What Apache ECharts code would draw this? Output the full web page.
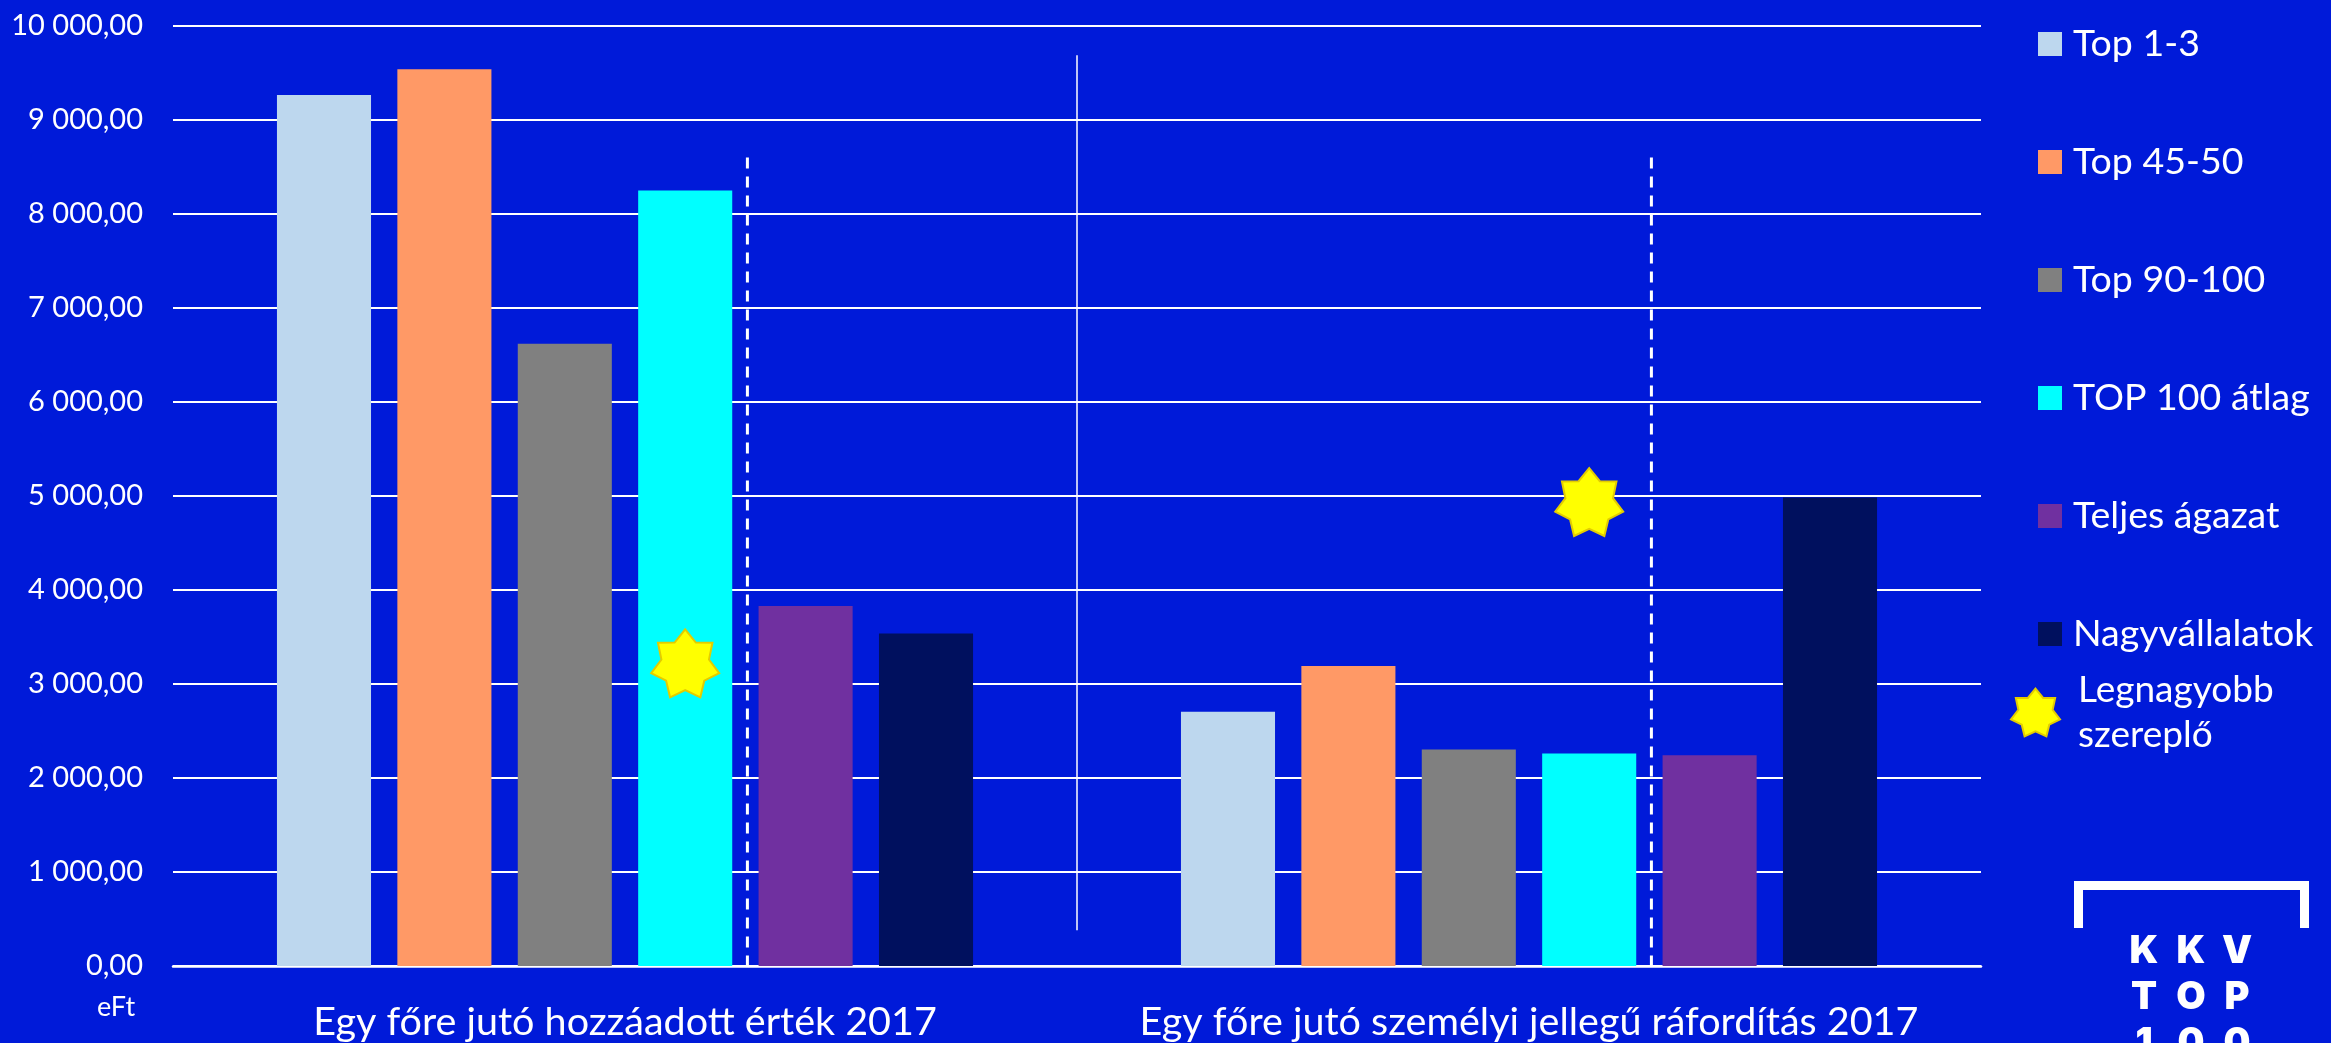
<!DOCTYPE html>
<html><head><meta charset="utf-8">
<script src="https://cdn.jsdelivr.net/npm/echarts@6/dist/echarts.min.js"></script>
<style>html,body{margin:0;padding:0;background:#001ad9;} #c{width:2331px;height:1043px;}</style>
</head><body><div id="c"></div>
<script>
// ---- data ----
const categories = ['Egy főre jutó hozzáadott érték 2017', 'Egy főre jutó személyi jellegű ráfordítás 2017'];
const seriesNames = ['Top 1-3', 'Top 45-50', 'Top 90-100', 'TOP 100 átlag', 'Teljes ágazat', 'Nagyvállalatok'];
const top1_3 = [9266, 2706];
const top45_50 = [9539, 3191];
const top90_100 = [6620, 2302];
const top100Atlag = [8249, 2260];
const teljesAgazat = [3830, 2241];
const nagyvallalatok = [3536, 4983];
const legnagyobbSzereplo = [3220, 4936];   // star markers, drawn at the TOP 100 bar position
const starName = 'Legnagyobb szereplő';
const yMin = 0, yMax = 10000, yStep = 1000;
const unitLabel = 'eFt';
const dividerSpan = [9690, 380];   // solid divider between the two groups
const dashedSpan = [8600, 0];      // dashed separators inside each group

// ---- styling ----
const colors = ['#BDD7EE', '#FF9966', '#808080', '#00FFFF', '#7030A0', '#00105E'];
const FONT = 'Lato';
const BAR_GAP = 0.28, CAT_GAP = 0.23, N = 6;

function starPath(n, inner) {
  let d = '';
  for (let i = 0; i < 2 * n; i++) {
    const r = i % 2 ? inner : 1;
    const a = -Math.PI / 2 + i * Math.PI / n;
    d += (i ? 'L' : 'M') + (50 + 50 * r * Math.cos(a)).toFixed(2) + ' ' + (50 + 50 * r * Math.sin(a)).toFixed(2);
  }
  return 'path://' + d + 'Z';
}
const STAR = starPath(7, 0.7);
const starStyle = { color: '#FFFF00', borderColor: '#E3CC00', borderWidth: 2, opacity: 1 };

function fmt(v) {
  return Math.round(v).toString().replace(/\B(?=(\d{3})+(?!\d))/g, ' ') + ',00';
}

function lineRenderer(kind) {
  return function (params, api) {
    const cat = api.value(0);
    const p1 = api.coord([cat, api.value(1)]);
    const p2 = api.coord([cat, api.value(2)]);
    const band = api.size([1, 0])[0];
    let x;
    if (kind === 'divider') x = p1[0] + band / 2;
    else {
      const bw = band * (1 - CAT_GAP) / (N + (N - 1) * BAR_GAP);
      x = p1[0] + bw * (1 + BAR_GAP) + 2;
    }
    return {
      type: 'line', silent: true,
      shape: { x1: x, y1: p1[1], x2: x, y2: p2[1] },
      style: { stroke: '#fff', lineWidth: kind === 'divider' ? 1.5 : 3, lineDash: kind === 'divider' ? null : [11, 8] }
    };
  };
}

const valueArrays = [top1_3, top45_50, top90_100, top100Atlag, teljesAgazat, nagyvallalatok];
const barSeries = seriesNames.map((name, i) => {
  const s = {
    name, type: 'bar', data: valueArrays[i],
    barGap: (BAR_GAP * 100) + '%', barCategoryGap: (CAT_GAP * 100) + '%',
    itemStyle: { color: colors[i] },
    emphasis: { disabled: true }
  };
  if (i === 3) {
    s.markPoint = {
      symbol: STAR, symbolSize: 68, label: { show: false },
      itemStyle: starStyle,
      data: legnagyobbSzereplo.map((v, c) => ({ coord: [c, v] }))
    };
  }
  return s;
});

const logoLetters = [['K', 'K', 'V'], ['T', 'O', 'P'], ['1', '0', '0']];
const logoCols = [2144, 2191, 2237], logoRows = [952, 998, 1044];
const logoGraphics = [];
logoLetters.forEach((row, r) => row.forEach((ch, c) => {
  logoGraphics.push({
    type: 'text', x: logoCols[c], y: logoRows[r],
    style: { text: ch, fill: '#fff', font: '900 38px Inter', align: 'center', verticalAlign: 'middle' }
  });
}));

const chart = echarts.init(document.getElementById('c'), null, { renderer: 'canvas' });
chart.setOption({
  backgroundColor: '#001ad9',
  animation: false,
  grid: { left: 173, right: 350, top: 26, bottom: 77, outerBoundsMode: 'none', containLabel: false },
  xAxis: {
    type: 'category', data: categories,
    axisLine: { lineStyle: { color: '#fff', width: 2.5 } },
    axisTick: { show: false },
    axisLabel: { color: '#fff', fontSize: 39.5, fontFamily: FONT, margin: 36, lineHeight: 40, interval: 0 },
    splitLine: { show: false }
  },
  yAxis: {
    type: 'value', min: yMin, max: yMax, interval: yStep,
    axisLine: { show: false }, axisTick: { show: false },
    axisLabel: { color: '#fff', fontSize: 29, fontFamily: FONT, margin: 30, formatter: fmt },
    splitLine: { lineStyle: { color: '#fff', width: 2 } }
  },
  legend: [{
    data: seriesNames, orient: 'vertical', left: 2033, top: 20,
    itemWidth: 24, itemHeight: 24, itemGap: 80, icon: 'rect', selectedMode: false,
    textStyle: { color: '#fff', fontSize: 37.5, fontFamily: FONT, lineHeight: 36, padding: [0, 0, 0, 6] }
  }, {
    data: [{ name: starName, icon: STAR }], orient: 'vertical', left: 2005, top: 653,
    itemWidth: 49, itemHeight: 49, selectedMode: false,
    formatter: n => n.replace(' ', '\n'),
    itemStyle: starStyle,
    textStyle: { color: '#fff', fontSize: 37, fontFamily: FONT, lineHeight: 45, padding: [19, 0, 0, 13] }
  }],
  graphic: [
    { type: 'text', left: 97, top: 994, style: { text: unitLabel, fill: '#fff', font: '27px Lato' } },
    { type: 'polyline', shape: { points: [[2078.5, 928], [2078.5, 885.5], [2304.5, 885.5], [2304.5, 928]] },
      style: { stroke: '#fff', lineWidth: 9, fill: null, lineJoin: 'miter' } }
  ].concat(logoGraphics),
  series: barSeries.concat([
    { name: starName, type: 'scatter', data: [], symbol: STAR, itemStyle: starStyle },
    { type: 'custom', renderItem: lineRenderer('divider'), data: [[0, dividerSpan[0], dividerSpan[1]]], silent: true, z: 1 },
    { type: 'custom', renderItem: lineRenderer('dashed'), data: categories.map((c, i) => [i, dashedSpan[0], dashedSpan[1]]), silent: true, z: 1 }
  ])
});
</script></body></html>
